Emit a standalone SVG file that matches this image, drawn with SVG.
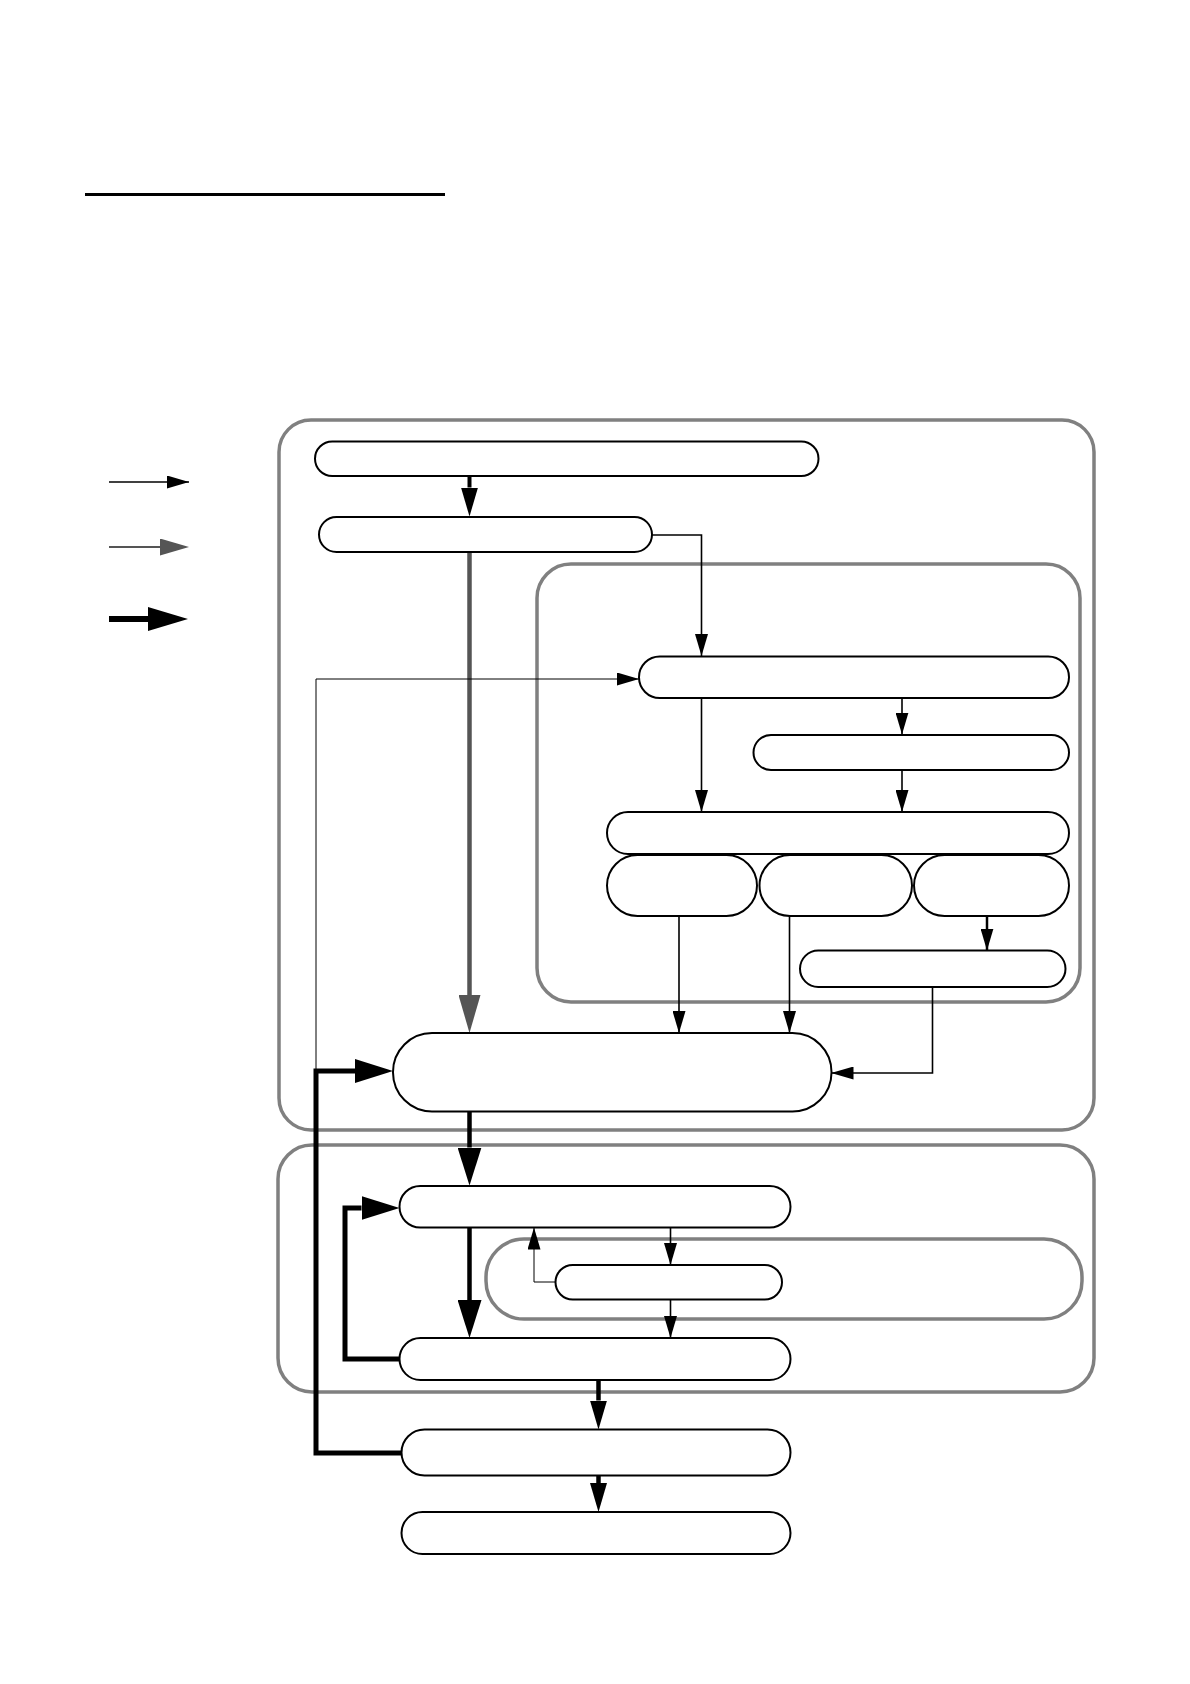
<svg xmlns="http://www.w3.org/2000/svg" width="1190" height="1684" viewBox="0 0 1190 1684">
<style>
.cont{fill:none;stroke:#808080;stroke-width:3.5}
.node{fill:#fff;stroke:#000;stroke-width:2}
.thin{fill:none;stroke:#000;stroke-width:1.6}
.hair{fill:none;stroke:#000;stroke-width:1}
.thick{fill:none;stroke:#000;stroke-width:5;stroke-linecap:butt}
.gray{fill:none;stroke:#555;stroke-width:4.5}
</style>
<defs>
<marker id="aThin" markerUnits="userSpaceOnUse" markerWidth="22" markerHeight="13" refX="22" refY="6.5" orient="auto"><path d="M0,0 L22,6.5 L0,13 z" fill="#000"/></marker>
<marker id="aThick" markerUnits="userSpaceOnUse" markerWidth="38" markerHeight="24" refX="0" refY="12" orient="auto"><path d="M0,0 L38,12 L0,24 z" fill="#000"/></marker>
<marker id="aMid" markerUnits="userSpaceOnUse" markerWidth="29" markerHeight="17" refX="0" refY="8.5" orient="auto"><path d="M0,0 L29,8.5 L0,17 z" fill="#000"/></marker>
<marker id="aGray" markerUnits="userSpaceOnUse" markerWidth="38" markerHeight="22" refX="0" refY="11" orient="auto"><path d="M0,0 L38,11 L0,22 z" fill="#555"/></marker>
<marker id="aGrayL" markerUnits="userSpaceOnUse" markerWidth="29" markerHeight="17" refX="0" refY="8.5" orient="auto"><path d="M0,0 L29,8.5 L0,17 z" fill="#555"/></marker>
<marker id="aThickL" markerUnits="userSpaceOnUse" markerWidth="40" markerHeight="24" refX="0" refY="12" orient="auto"><path d="M0,0 L40,12 L0,24 z" fill="#000"/></marker>
</defs>
<rect width="1190" height="1684" fill="#fff"/>
<line x1="85" y1="194.5" x2="445" y2="194.5" stroke="#000" stroke-width="3"/>
<g id="legend">
<line x1="109" y1="482" x2="189" y2="482" class="thin" marker-end="url(#aThin)"/>
<line x1="109" y1="547" x2="160" y2="547" style="fill:none;stroke:#555;stroke-width:2" marker-end="url(#aGrayL)"/>
<line x1="109" y1="619" x2="148" y2="619" class="thick" style="stroke-width:6" marker-end="url(#aThickL)"/>
</g>
<g id="containers">
<rect id="c1" class="cont" x="279" y="420" width="815" height="710" rx="32"/>
<rect id="c2" class="cont" x="537" y="564" width="543" height="438" rx="34"/>
<rect id="c3" class="cont" x="278" y="1145" width="816" height="247" rx="34"/>
<rect id="c4" class="cont" x="486" y="1239" width="596" height="80" rx="38"/>
</g>
<g id="connectors">
<line x1="469.5" y1="476" x2="469.5" y2="487.5" class="thick" style="stroke-width:4" marker-end="url(#aMid)"/>
<line x1="469.5" y1="552" x2="469.5" y2="995" class="gray" marker-end="url(#aGray)"/>
<polyline points="652,535 701.5,535 701.5,656" class="thin" marker-end="url(#aThin)"/>
<polyline points="316,1071 316,679 639,679" class="hair" marker-end="url(#aThin)"/>
<line x1="701.5" y1="698" x2="701.5" y2="812" class="thin" marker-end="url(#aThin)"/>
<line x1="902" y1="698" x2="902" y2="734.5" class="thin" marker-end="url(#aThin)"/>
<line x1="902" y1="770" x2="902" y2="812" class="thin" marker-end="url(#aThin)"/>
<line x1="679" y1="916" x2="679" y2="1033" class="thin" marker-end="url(#aThin)"/>
<line x1="789.5" y1="916" x2="789.5" y2="1033" class="thin" marker-end="url(#aThin)"/>
<line x1="987" y1="916" x2="987" y2="950.5" class="thin" style="stroke-width:2.5" marker-end="url(#aThin)"/>
<polyline points="932.5,987 932.5,1073 831.5,1073" class="thin" marker-end="url(#aThin)"/>
<line x1="469.5" y1="1111.5" x2="469.5" y2="1147.5" class="thick" style="stroke-width:4.5" marker-end="url(#aThick)"/>
<polyline points="401.5,1453 316,1453 316,1071 355,1071" class="thick" marker-end="url(#aThick)"/>
<polyline points="399.5,1359 345,1359 345,1208 361.5,1208" class="thick" marker-end="url(#aThick)"/>
<line x1="469.5" y1="1227.5" x2="469.5" y2="1300" class="thick" style="stroke-width:4.5" marker-end="url(#aThick)"/>
<line x1="670.5" y1="1227.5" x2="670.5" y2="1265" class="thin" marker-end="url(#aThin)"/>
<polyline points="555.5,1282 534,1282 534,1227.5" class="hair" marker-end="url(#aThin)"/>
<line x1="670.5" y1="1299.5" x2="670.5" y2="1338" class="thin" marker-end="url(#aThin)"/>
<line x1="598.5" y1="1380" x2="598.5" y2="1400.5" class="thick" style="stroke-width:4.5" marker-end="url(#aMid)"/>
<line x1="598.5" y1="1475.5" x2="598.5" y2="1483" class="thick" style="stroke-width:4.5" marker-end="url(#aMid)"/>
</g>
<g id="nA"><rect class="node" x="315" y="441.5" width="503.5" height="34.5" rx="17.25"/></g>
<g id="nB"><rect class="node" x="319" y="517" width="333" height="35" rx="17.5"/></g>
<g id="nC"><rect class="node" x="639" y="656.5" width="430" height="41.5" rx="20.75"/></g>
<g id="nD"><rect class="node" x="753.5" y="735" width="315.5" height="35" rx="17.5"/></g>
<g id="nE"><rect class="node" x="607" y="812" width="462" height="42" rx="21"/></g>
<g id="nF1"><rect class="node" x="607" y="855" width="150" height="61" rx="30.5"/></g>
<g id="nF2"><rect class="node" x="759.5" y="855" width="152.5" height="61" rx="30.5"/></g>
<g id="nF3"><rect class="node" x="914" y="855" width="155" height="61" rx="30.5"/></g>
<g id="nG"><rect class="node" x="800" y="950.5" width="265.5" height="36.5" rx="18.25"/></g>
<g id="nH"><rect class="node" x="393" y="1033" width="438.5" height="78.5" rx="39"/></g>
<g id="nI"><rect class="node" x="399.5" y="1186" width="391" height="41.5" rx="20.75"/></g>
<g id="nJ"><rect class="node" x="555.5" y="1265" width="226.5" height="34.5" rx="17.25"/></g>
<g id="nK"><rect class="node" x="399.5" y="1338" width="391" height="42" rx="21"/></g>
<g id="nL"><rect class="node" x="401.5" y="1429.5" width="389" height="46" rx="23"/></g>
<g id="nM"><rect class="node" x="401.5" y="1512" width="389" height="42" rx="21"/></g>
</svg>
